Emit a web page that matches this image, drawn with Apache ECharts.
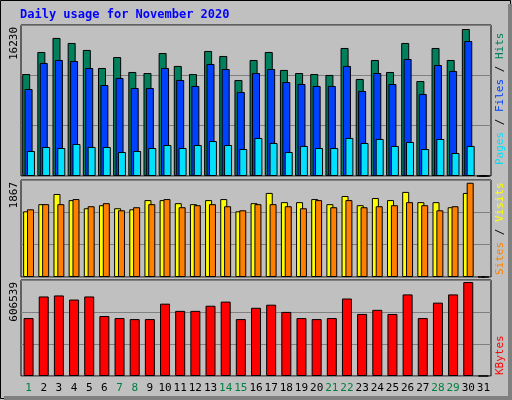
<!DOCTYPE html>
<html>
<head>
<meta charset="utf-8">
<script src="https://cdn.jsdelivr.net/npm/echarts@6/dist/echarts.min.js"></script>
<style>html,body{margin:0;padding:0;background:#c0c0c0}#chart{width:512px;height:400px}</style>
</head>
<body>
<div id="chart"></div>
<script>
var days = [];
for (var d = 1; d <= 31; d++) days.push(String(d));
var weekendDays = ['1','7','8','14','15','21','22','28','29'];

var hits = [10960,13330,14840,14300,13550,11610,12790,11180,11070,13220,11830,10960,13440,12900,10320,12470,13330,11400,11070,10960,10860,13760,10430,12470,11180,14300,10210,13760,12470,15800,0];
var files = [9350,12150,12470,12360,11610,9780,10540,9460,9460,11610,10320,9680,12040,11500,9030,11070,11500,10100,9890,9680,9680,11830,9140,11070,9890,12580,8820,11930,11290,14510,0];
var pages = [2690,3120,3010,3440,3120,3120,2580,2690,3010,3330,3010,3330,3760,3330,2900,4090,3550,2580,3230,3010,3010,4090,3550,3980,3230,3660,2900,3980,2470,3230,0];
var sites = [1264,1402,1598,1480,1323,1382,1323,1303,1480,1480,1421,1402,1480,1500,1264,1421,1618,1441,1441,1500,1402,1559,1382,1520,1480,1638,1441,1441,1343,1618,0];
var visits = [1303,1402,1402,1500,1362,1421,1284,1343,1402,1500,1343,1382,1402,1362,1284,1402,1402,1362,1323,1480,1343,1480,1343,1362,1382,1441,1382,1284,1362,1814,0];
var kbytes = [366000,502500,509000,483000,502500,379000,366000,359600,359600,457000,411500,411500,444000,470000,359600,431000,450500,405000,366000,359600,366000,489500,392000,418000,392000,515500,366000,463500,515500,593500,0];

var maxHits = 16230, maxSites = 1867, maxKB = 606539;

var myChart = echarts.init(document.getElementById('chart'));
var font = 'DejaVu Sans Mono';

function xAxis(i, showLabels) {
	return {
		type: 'category', gridIndex: i, data: days,
		axisLine: { show: false }, axisTick: { show: false },
		axisLabel: {
			show: showLabels, interval: 0, hideOverlap: false, margin: 7, fontFamily: font, fontSize: 11,
			color: function (v) { return weekendDays.indexOf(v) >= 0 ? '#008040' : '#000'; }
		}
	};
}
function yAxis(i, max) {
	return {
		type: 'value', gridIndex: i, min: 0, max: max, interval: max / 3,
		axisLabel: { show: false }, axisLine: { show: false }, axisTick: { show: false },
		splitLine: { lineStyle: { color: '#808080', width: 1 } }
	};
}
function bar(name, x, data, color, width, gap) {
	var s = {
		name: name, type: 'bar', xAxisIndex: x, yAxisIndex: x, data: data,
		barWidth: width, animation: false,
		itemStyle: { color: color, borderColor: '#000', borderWidth: 1 }
	};
	if (gap) s.barGap = gap;
	return s;
}
// vertical text, reads bottom-to-top, (x,y) is the bottom end
function vText(x, y, rich, str) {
	return {
		type: 'text', x: x, y: y, rotation: Math.PI / 2,
		style: { text: str, rich: rich, fontFamily: font, fontSize: 11, align: 'left', verticalAlign: 'middle' }
	};
}
function maxLabel(y, v) {
	return { type: 'text', x: 14, y: y, rotation: Math.PI / 2,
		style: { text: String(v), fontFamily: font, fontSize: 11, fill: '#000', align: 'right', verticalAlign: 'middle' } };
}

var option = {
	backgroundColor: '#c0c0c0',
	grid: [
		{ left: 21, right: 21, top: 25, height: 151, show: true, backgroundColor: '#c0c0c0', borderColor: '#000', borderWidth: 1 },
		{ left: 21, right: 21, top: 180, height: 97, show: true, backgroundColor: '#c0c0c0', borderColor: '#000', borderWidth: 1 },
		{ left: 21, right: 21, top: 280, height: 96, show: true, backgroundColor: '#c0c0c0', borderColor: '#000', borderWidth: 1 }
	],
	xAxis: [xAxis(0, false), xAxis(1, false), xAxis(2, true)],
	yAxis: [yAxis(0, maxHits), yAxis(1, maxSites), yAxis(2, maxKB)],
	series: [
		bar('Hits', 0, hits, '#00805c', 8, '-70%'),
		bar('Files', 0, files, '#0040ff', 8, '-70%'),
		bar('Pages', 0, pages, '#00e0ff', 8, '-70%'),
		bar('Sites', 1, sites, '#ffff00', 7, '-45%'),
		bar('Visits', 1, visits, '#ff8000', 7, '-45%'),
		bar('KBytes', 2, kbytes, '#ff0000', 10)
	],
	graphic: [
		{ type: 'rect', shape: { x: 0.5, y: 0.5, width: 510, height: 398 }, style: { fill: 'none', stroke: '#000', lineWidth: 1 } },
		{ type: 'rect', shape: { x: 508, y: 4, width: 4, height: 396 }, style: { fill: '#808080' } },
		{ type: 'rect', shape: { x: 4, y: 396, width: 508, height: 4 }, style: { fill: '#808080' } },
		{ type: 'text', x: 20, y: 9, style: { text: 'Daily usage for November 2020', fontFamily: font, fontSize: 12, fontWeight: 'bold', fill: '#0000ff' } },
		maxLabel(27, maxHits),
		maxLabel(182, maxSites),
		maxLabel(282, maxKB),
		vText(500, 165, { p: { fill: '#00e0ff' }, f: { fill: '#0040ff' }, h: { fill: '#00805c' }, s: { fill: '#000' } },
			'{p|Pages}{s| / }{f|Files}{s| / }{h|Hits}'),
		vText(500, 275, { a: { fill: '#ff8000' }, b: { fill: '#ffff00' }, s: { fill: '#000' } },
			'{a|Sites}{s| / }{b|Visits}'),
		vText(500, 375, { k: { fill: '#ff0000' } }, '{k|KBytes}')
	]
};
myChart.setOption(option, true);
</script>
</body>
</html>
